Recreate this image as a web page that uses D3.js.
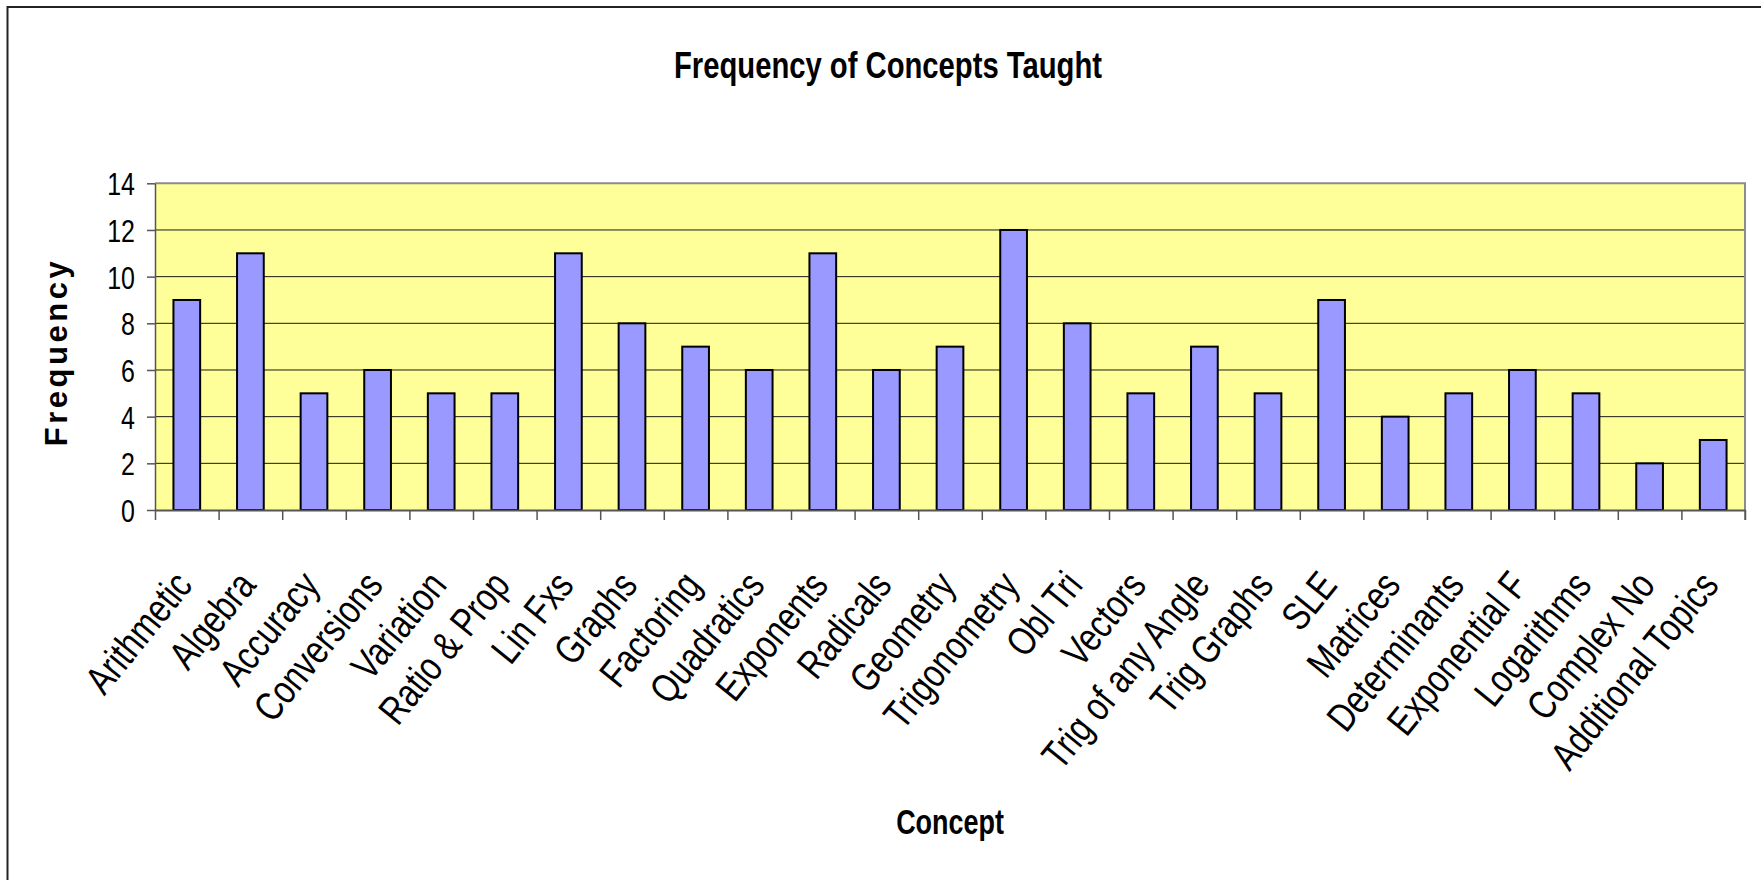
<!DOCTYPE html>
<html>
<head>
<meta charset="utf-8">
<script src="https://cdn.jsdelivr.net/npm/d3@7"></script>
<style>
  html, body { margin: 0; padding: 0; background: #fff; overflow: hidden; }
  svg { display: block; font-family: "Liberation Sans", Arial, sans-serif; }
</style>
</head>
<body>
<svg id="chart"></svg>
<script>
// chart data
const concepts = ['Arithmetic', 'Algebra', 'Accuracy', 'Conversions', 'Variation', 'Ratio & Prop',
  'Lin Fxs', 'Graphs', 'Factoring', 'Quadratics', 'Exponents', 'Radicals', 'Geometry',
  'Trigonometry', 'Obl Tri', 'Vectors', 'Trig of any Angle', 'Trig Graphs', 'SLE', 'Matrices',
  'Determinants', 'Exponential F', 'Logarithms', 'Complex No', 'Additional Topics'];
const frequency = [9, 11, 5, 6, 5, 5, 11, 8, 7, 6, 11, 6, 7, 12, 8, 5, 7, 5, 9, 4, 5, 6, 5, 2, 3];
const yTicks = [0, 2, 4, 6, 8, 10, 12, 14];

const chartTitle = 'Frequency of Concepts Taught';
const xTitle = 'Concept';
const yTitle = 'Frequency';

class BarChart {

  constructor(_config) {
    this.config = {
      parentElement: _config.parentElement,
      containerWidth: _config.containerWidth || 1761,
      containerHeight: _config.containerHeight || 880,
      margin: _config.margin || { top: 183.3, right: 16, bottom: 370, left: 155 }
    }
    this.initVis();
  }

  initVis() {
    let vis = this;

    vis.width = vis.config.containerWidth - vis.config.margin.left - vis.config.margin.right;
    vis.height = vis.config.containerHeight - vis.config.margin.top - vis.config.margin.bottom;

    vis.svg = d3.select(vis.config.parentElement)
      .attr('width', vis.config.containerWidth)
      .attr('height', vis.config.containerHeight);

    // outer chart frame (only top and left edges show in the picture)
    vis.svg.append('path')
      .attr('d', `M7.5,${vis.config.containerHeight} V7 H${vis.config.containerWidth}`)
      .attr('fill', 'none')
      .attr('stroke', '#222')
      .attr('stroke-width', 2);

    vis.chart = vis.svg.append('g')
      .attr('transform', `translate(${vis.config.margin.left},${vis.config.margin.top})`);

    vis.xScale = d3.scaleBand()
      .domain(concepts)
      .range([0, vis.width])
      .padding(0);

    // linear scale over category edges, used for the tick marks between categories
    vis.edgeScale = d3.scaleLinear()
      .domain([0, concepts.length])
      .range([0, vis.width]);

    vis.yScale = d3.scaleLinear()
      .domain([0, d3.max(yTicks)])
      .range([vis.height, 0]);

    vis.barWidth = vis.xScale.bandwidth() * 0.42;

    vis.updateVis();
  }

  updateVis() {
    let vis = this;

    // plot area
    vis.chart.append('rect')
      .attr('width', vis.width)
      .attr('height', vis.height)
      .attr('fill', '#FFFF99');

    // gridlines
    vis.chart.append('g')
      .attr('class', 'grid')
      .selectAll('line')
      .data(yTicks.filter(d => d > 0 && d < d3.max(yTicks)))
      .join('line')
      .attr('x1', 0)
      .attr('x2', vis.width)
      .attr('y1', d => vis.yScale(d))
      .attr('y2', d => vis.yScale(d))
      .attr('stroke', '#1a1a1a')
      .attr('stroke-width', 1);

    // top and right border of the plot area
    vis.chart.append('path')
      .attr('d', `M0,0 H${vis.width} V${vis.height + 10}`)
      .attr('fill', 'none')
      .attr('stroke', '#8c8c8c')
      .attr('stroke-width', 2);

    vis.renderVis();
  }

  renderVis() {
    let vis = this;

    // bars
    vis.chart.append('g')
      .attr('class', 'bars')
      .selectAll('rect')
      .data(frequency)
      .join('rect')
      .attr('x', (d, i) => vis.xScale(concepts[i]) + (vis.xScale.bandwidth() - vis.barWidth) / 2)
      .attr('y', d => vis.yScale(d))
      .attr('width', vis.barWidth)
      .attr('height', d => vis.height - vis.yScale(d))
      .attr('fill', '#9999FF')
      .attr('stroke', '#000')
      .attr('stroke-width', 2);

    // y axis
    const yAxis = d3.axisLeft(vis.yScale)
      .tickValues(yTicks)
      .tickSize(8)
      .tickSizeOuter(0)
      .tickPadding(12);

    const yAxisG = vis.chart.append('g')
      .attr('class', 'axis y-axis')
      .call(yAxis);
    yAxisG.select('.domain').attr('stroke', '#555').attr('stroke-width', 1.5);
    yAxisG.selectAll('.tick line').attr('stroke', '#555').attr('stroke-width', 1.5);
    yAxisG.selectAll('.tick text')
      .attr('x', -20 / 0.78)
      .attr('dy', '0.36em')
      .attr('transform', 'scale(0.78,1)')
      .attr('fill', '#000')
      .style('font-size', '32px');

    // x axis: tick marks at the category edges
    const xAxis = d3.axisBottom(vis.edgeScale)
      .tickValues(d3.range(concepts.length + 1))
      .tickSize(10)
      .tickSizeOuter(0)
      .tickFormat('');

    const xAxisG = vis.chart.append('g')
      .attr('class', 'axis x-axis')
      .attr('transform', `translate(0,${vis.height})`)
      .call(xAxis);
    xAxisG.select('.domain').attr('stroke', '#555').attr('stroke-width', 2);
    xAxisG.selectAll('.tick line').attr('stroke', '#555').attr('stroke-width', 1.5);

    // rotated, condensed category labels, end anchored under each category centre
    vis.chart.append('g')
      .attr('class', 'x-labels')
      .selectAll('text')
      .data(concepts)
      .join('text')
      .attr('transform', d => `translate(${vis.xScale(d) + vis.xScale.bandwidth() / 2 + 7},${vis.height + 76}) rotate(-51) scale(0.8,1)`)
      .attr('text-anchor', 'end')
      .style('font-size', '40px')
      .attr('fill', '#000')
      .text(d => d);

    // titles
    vis.svg.append('text')
      .attr('transform', 'translate(888,78) scale(0.79,1)')
      .attr('text-anchor', 'middle')
      .style('font-size', '37px')
      .style('font-weight', 'bold')
      .text(chartTitle);

    vis.svg.append('text')
      .attr('transform', 'translate(950,834) scale(0.77,1)')
      .attr('text-anchor', 'middle')
      .style('font-size', '35px')
      .style('font-weight', 'bold')
      .text(xTitle);

    vis.svg.append('text')
      .attr('transform', 'translate(67,352) rotate(-90)')
      .attr('text-anchor', 'middle')
      .style('font-size', '31px')
      .style('font-weight', 'bold')
      .style('letter-spacing', '3.5px')
      .text(yTitle);
  }
}

const barChart = new BarChart({ parentElement: '#chart' });
</script>
</body>
</html>
